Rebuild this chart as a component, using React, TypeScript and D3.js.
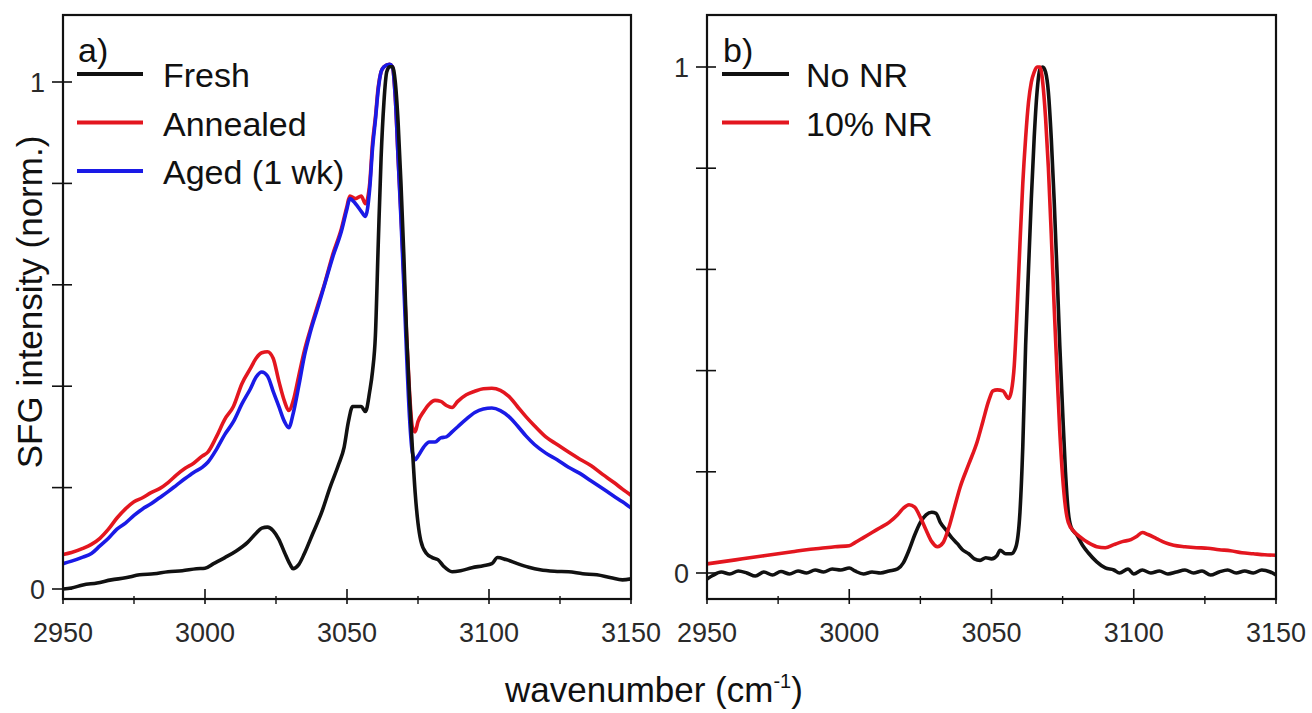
import React from "react";
import * as d3 from "d3";

// ---------- data ----------
const xMajorTicks = [2950, 3000, 3050, 3100, 3150];
const xMinorTicks = [2975, 3025, 3075, 3125];
const yTicks = [0, 0.2, 0.4, 0.6, 0.8, 1];
const yTickLabels: Record<string, string> = { "0": "0", "1": "1" };

const freshA: [number, number][] = [
  [2950, 0.0], [2953, 0.002], [2957, 0.008], [2962, 0.012], [2967, 0.018], [2972, 0.022], [2977, 0.028],
  [2982, 0.03], [2987, 0.034], [2992, 0.036], [2997, 0.04], [3000, 0.041], [3003, 0.05], [3007, 0.062],
  [3011, 0.075], [3015, 0.092], [3018, 0.11], [3020, 0.12], [3022, 0.122], [3024, 0.115], [3026, 0.098],
  [3028, 0.072], [3030, 0.048], [3031, 0.04], [3033, 0.048], [3035, 0.07], [3038, 0.11], [3041, 0.15],
  [3044, 0.2], [3047, 0.245], [3049, 0.28], [3050.5, 0.33], [3052, 0.36], [3055, 0.36], [3056.5, 0.35],
  [3058, 0.39], [3059, 0.43], [3060, 0.5], [3061, 0.68], [3062, 0.85], [3063, 0.96], [3064, 1.02],
  [3065, 1.03], [3066, 1.03], [3067, 1.0], [3068, 0.92], [3069, 0.8], [3070, 0.66], [3071, 0.5],
  [3072, 0.38], [3073, 0.28], [3074, 0.19], [3075, 0.13], [3076, 0.095], [3078, 0.07], [3080, 0.062],
  [3082, 0.058], [3084, 0.045], [3087, 0.034], [3090, 0.036], [3094, 0.042], [3098, 0.046], [3101, 0.05],
  [3103, 0.062], [3106, 0.058], [3110, 0.05], [3114, 0.043], [3118, 0.038], [3123, 0.035], [3128, 0.034],
  [3133, 0.03], [3138, 0.028], [3143, 0.022], [3147, 0.018], [3150, 0.02],
];

const annealedA: [number, number][] = [
  [2950, 0.068], [2953, 0.072], [2957, 0.08], [2960, 0.088], [2963, 0.1], [2966, 0.118], [2969, 0.14],
  [2972, 0.158], [2975, 0.172], [2978, 0.18], [2981, 0.19], [2984, 0.198], [2987, 0.21], [2990, 0.225],
  [2993, 0.238], [2996, 0.248], [2999, 0.262], [3001, 0.27], [3004, 0.3], [3007, 0.335], [3010, 0.36],
  [3013, 0.405], [3016, 0.435], [3018, 0.455], [3020, 0.466], [3022, 0.468], [3024, 0.455], [3026, 0.41],
  [3028, 0.37], [3029.5, 0.352], [3031, 0.37], [3033, 0.42], [3035, 0.47], [3037, 0.51], [3040, 0.565],
  [3042, 0.6], [3045, 0.66], [3048, 0.71], [3050, 0.755], [3051, 0.775], [3053, 0.77], [3055, 0.775],
  [3056.5, 0.76], [3058, 0.8], [3059, 0.88], [3060, 0.93], [3061, 0.99], [3062, 1.02], [3063, 1.03],
  [3065, 1.035], [3066, 1.03], [3067, 0.97], [3068, 0.85], [3069, 0.74], [3070, 0.62], [3071, 0.5],
  [3072, 0.39], [3073, 0.32], [3074, 0.31], [3075, 0.33], [3077, 0.35], [3079, 0.365], [3081, 0.372],
  [3083, 0.37], [3085, 0.362], [3087, 0.358], [3089, 0.37], [3092, 0.383], [3095, 0.39], [3098, 0.395],
  [3101, 0.396], [3104, 0.392], [3107, 0.38], [3110, 0.36], [3113, 0.34], [3116, 0.322], [3120, 0.3],
  [3124, 0.285], [3128, 0.27], [3132, 0.256], [3136, 0.243], [3140, 0.226], [3144, 0.21], [3147, 0.197],
  [3150, 0.185],
];

const agedA: [number, number][] = [
  [2950, 0.05], [2953, 0.055], [2957, 0.063], [2960, 0.07], [2963, 0.085], [2966, 0.1], [2969, 0.118],
  [2972, 0.13], [2975, 0.145], [2978, 0.158], [2981, 0.168], [2984, 0.18], [2987, 0.192], [2990, 0.205],
  [2993, 0.218], [2996, 0.23], [2999, 0.24], [3001, 0.25], [3004, 0.275], [3007, 0.305], [3010, 0.33],
  [3013, 0.365], [3016, 0.395], [3018, 0.418], [3020, 0.428], [3022, 0.42], [3024, 0.39], [3026, 0.36],
  [3028, 0.33], [3029.5, 0.318], [3031, 0.345], [3033, 0.4], [3035, 0.46], [3037, 0.505], [3040, 0.56],
  [3042, 0.598], [3045, 0.655], [3048, 0.705], [3050, 0.75], [3051, 0.77], [3053, 0.76], [3055, 0.745],
  [3056.5, 0.735], [3058, 0.79], [3059, 0.87], [3060, 0.925], [3061, 0.985], [3062, 1.02], [3063, 1.03],
  [3065, 1.035], [3066, 1.03], [3067, 0.97], [3068, 0.85], [3069, 0.73], [3070, 0.6], [3071, 0.46],
  [3072, 0.34], [3073, 0.27], [3074, 0.255], [3075, 0.262], [3077, 0.28], [3079, 0.29], [3081, 0.29],
  [3083, 0.298], [3085, 0.3], [3087, 0.31], [3089, 0.32], [3092, 0.335], [3095, 0.348], [3098, 0.355],
  [3101, 0.357], [3104, 0.352], [3107, 0.34], [3110, 0.322], [3113, 0.302], [3116, 0.285], [3120, 0.268],
  [3124, 0.255], [3128, 0.24], [3132, 0.228], [3136, 0.213], [3140, 0.198], [3144, 0.183], [3147, 0.172],
  [3150, 0.16],
];

const noNrB: [number, number][] = [
  [2950, -0.012], [2952, -0.005], [2955, 0.002], [2958, -0.002], [2961, 0.004], [2964, 0.0], [2967, -0.006],
  [2970, 0.002], [2973, -0.004], [2976, 0.003], [2979, -0.002], [2982, 0.004], [2985, 0.0], [2988, 0.006],
  [2991, 0.002], [2994, 0.008], [2997, 0.006], [3000, 0.01], [3002, 0.004], [3005, -0.002], [3008, 0.002],
  [3011, 0.0], [3014, 0.004], [3017, 0.008], [3019, 0.02], [3021, 0.045], [3023, 0.075], [3025, 0.1],
  [3027, 0.115], [3029, 0.12], [3030.5, 0.118], [3032, 0.1], [3034, 0.085], [3036, 0.07], [3038, 0.058],
  [3040, 0.045], [3042, 0.038], [3044, 0.028], [3046, 0.025], [3048, 0.03], [3050, 0.028], [3052, 0.035],
  [3053, 0.045], [3055, 0.038], [3057, 0.038], [3058.5, 0.05], [3060, 0.12], [3061, 0.25], [3062, 0.45],
  [3063, 0.6], [3064, 0.74], [3065, 0.86], [3066, 0.95], [3067, 0.995], [3068, 1.0], [3069, 0.99],
  [3070, 0.95], [3071, 0.86], [3072, 0.74], [3073, 0.6], [3074, 0.45], [3075, 0.32], [3076, 0.2],
  [3077, 0.12], [3078, 0.09], [3080, 0.075], [3082, 0.055], [3084, 0.04], [3087, 0.022], [3090, 0.01],
  [3093, 0.006], [3095, 0.0], [3098, 0.008], [3100, -0.002], [3103, 0.006], [3106, 0.0], [3109, 0.004],
  [3112, -0.002], [3115, 0.002], [3118, 0.006], [3121, 0.0], [3124, 0.004], [3127, -0.004], [3130, 0.002],
  [3133, 0.006], [3136, 0.0], [3139, 0.004], [3142, 0.0], [3145, 0.006], [3148, 0.002], [3150, -0.004],
];

const tenNrB: [number, number][] = [
  [2950, 0.018], [2955, 0.022], [2960, 0.026], [2965, 0.03], [2970, 0.034], [2975, 0.038], [2980, 0.042],
  [2985, 0.046], [2990, 0.049], [2995, 0.052], [3000, 0.054], [3002, 0.06], [3005, 0.07], [3008, 0.08],
  [3011, 0.09], [3014, 0.1], [3017, 0.115], [3019, 0.128], [3021, 0.135], [3023, 0.13], [3025, 0.11],
  [3027, 0.085], [3029, 0.062], [3031, 0.052], [3033, 0.06], [3035, 0.09], [3037, 0.13], [3039, 0.17],
  [3042, 0.215], [3045, 0.26], [3047, 0.3], [3049, 0.34], [3050.5, 0.36], [3052, 0.362], [3054, 0.36],
  [3056, 0.345], [3057, 0.36], [3058, 0.41], [3059, 0.52], [3060, 0.65], [3061, 0.77], [3062, 0.86],
  [3063, 0.93], [3064, 0.97], [3065, 0.99], [3066, 1.0], [3067, 1.0], [3068, 0.97], [3069, 0.9],
  [3070, 0.8], [3071, 0.67], [3072, 0.53], [3073, 0.4], [3074, 0.28], [3075, 0.19], [3076, 0.13],
  [3077, 0.1], [3079, 0.082], [3081, 0.072], [3084, 0.06], [3087, 0.052], [3090, 0.05], [3093, 0.056],
  [3096, 0.062], [3099, 0.066], [3101, 0.072], [3103, 0.08], [3105, 0.076], [3108, 0.068], [3111, 0.06],
  [3114, 0.055], [3118, 0.052], [3122, 0.05], [3126, 0.049], [3130, 0.046], [3134, 0.044], [3138, 0.04],
  [3142, 0.038], [3146, 0.036], [3150, 0.035],
];

const seriesA = [
  { name: "Fresh", color: "#111111", data: freshA },
  { name: "Annealed", color: "#e3161f", data: annealedA },
  { name: "Aged (1 wk)", color: "#1a1ae6", data: agedA },
];
// draw order: red, blue, black on top for peak region
const drawOrderA = [1, 2, 0];

const seriesB = [
  { name: "No NR", color: "#111111", data: noNrB },
  { name: "10% NR", color: "#e3161f", data: tenNrB },
];
const drawOrderB = [0, 1];

const FONT = "'Liberation Sans', Arial, Helvetica, sans-serif";

type Panel = {
  id: string;
  label: string;
  left: number;
  right: number;
  top: number;
  bottom: number;
  y0: number;
  y1: number;
  series: { name: string; color: string; data: [number, number][] }[];
  order: number[];
  legendLineX: [number, number];
  legendTextX: number;
  legendY0: number;
};

const panels: Panel[] = [
  {
    id: "a", label: "a)", left: 63, right: 631, top: 15, bottom: 599, y0: 589, y1: 82,
    series: seriesA, order: drawOrderA, legendLineX: [77, 143], legendTextX: 163, legendY0: 74,
  },
  {
    id: "b", label: "b)", left: 707, right: 1276, top: 15, bottom: 599, y0: 573, y1: 67,
    series: seriesB, order: drawOrderB, legendLineX: [722, 789], legendTextX: 806, legendY0: 74,
  },
];

function PanelView({ p }: { p: Panel }) {
  const x = d3.scaleLinear().domain([2950, 3150]).range([p.left, p.right]);
  const y = d3.scaleLinear().domain([0, 1]).range([p.y0, p.y1]);
  const line = d3
    .line<[number, number]>()
    .x((d) => x(d[0]))
    .y((d) => y(d[1]))
    .curve(d3.curveMonotoneX);
  const clipId = `clip-${p.id}`;
  const legendStep = 48.5;
  return (
    <g>
      <defs>
        <clipPath id={clipId}>
          <rect x={p.left} y={p.top} width={p.right - p.left} height={p.bottom - p.top} />
        </clipPath>
      </defs>
      <g clipPath={`url(#${clipId})`}>
        {p.order.map((i) => (
          <path
            key={p.series[i].name}
            d={line(p.series[i].data) || ""}
            fill="none"
            stroke={p.series[i].color}
            strokeWidth={3.6}
            strokeLinejoin="round"
            strokeLinecap="round"
          />
        ))}
      </g>
      <rect
        x={p.left}
        y={p.top}
        width={p.right - p.left}
        height={p.bottom - p.top}
        fill="none"
        stroke="#111"
        strokeWidth={2.2}
      />
      {/* y ticks */}
      {yTicks.map((t) => (
        <line key={`yt${t}`} x1={p.left - 11} x2={p.left + 9} y1={y(t)} y2={y(t)} stroke="#111" strokeWidth={1.6} />
      ))}
      {yTicks
        .filter((t) => yTickLabels[String(t)] !== undefined)
        .map((t) => (
          <text
            key={`yl${t}`}
            x={p.left - 18}
            y={y(t)}
            dy="0.36em"
            textAnchor="end"
            fontFamily={FONT}
            fontSize={27}
            fill="#2a2a2a"
          >
            {yTickLabels[String(t)]}
          </text>
        ))}
      {/* x ticks */}
      {xMajorTicks.map((t) => (
        <line key={`xt${t}`} x1={x(t)} x2={x(t)} y1={p.bottom - 10} y2={p.bottom + 5} stroke="#111" strokeWidth={1.6} />
      ))}
      {xMinorTicks.map((t) => (
        <line key={`xm${t}`} x1={x(t)} x2={x(t)} y1={p.bottom - 3} y2={p.bottom + 5} stroke="#111" strokeWidth={1.4} />
      ))}
      {xMajorTicks.map((t) => (
        <text
          key={`xl${t}`}
          x={x(t)}
          y={p.bottom + 43}
          textAnchor="middle"
          fontFamily={FONT}
          fontSize={27}
          fill="#2a2a2a"
        >
          {t}
        </text>
      ))}
      {/* panel label */}
      <text x={p.legendLineX[0] + 1} y={62} fontFamily={FONT} fontSize={34} fill="#111">
        {p.label}
      </text>
      {/* legend */}
      {p.series.map((s, i) => (
        <g key={`lg${s.name}`}>
          <line
            x1={p.legendLineX[0]}
            x2={p.legendLineX[1]}
            y1={p.legendY0 + i * legendStep}
            y2={p.legendY0 + i * legendStep}
            stroke={s.color}
            strokeWidth={4}
          />
          <text
            x={p.legendTextX}
            y={p.legendY0 + i * legendStep + 13}
            fontFamily={FONT}
            fontSize={34}
            fill="#111"
          >
            {s.name}
          </text>
        </g>
      ))}
    </g>
  );
}

export default function App() {
  return (
    <svg
      width={1312}
      height={713}
      viewBox="0 0 1312 713"
      style={{ position: "absolute", left: 0, top: 0, background: "#fff" }}
    >
      <rect x={0} y={0} width={1312} height={713} fill="#fff" />
      {panels.map((p) => (
        <PanelView key={p.id} p={p} />
      ))}
      <text
        transform="translate(42,302) rotate(-90)"
        textAnchor="middle"
        fontFamily={FONT}
        fontSize={35}
        fill="#111"
      >
        SFG intensity (norm.)
      </text>
      <text x={505} y={702} fontFamily={FONT} fontSize={35} fill="#111">
        wavenumber (cm
        <tspan fontSize={20} dy={-14}>-1</tspan>
        <tspan dy={14}>)</tspan>
      </text>
    </svg>
  );
}
